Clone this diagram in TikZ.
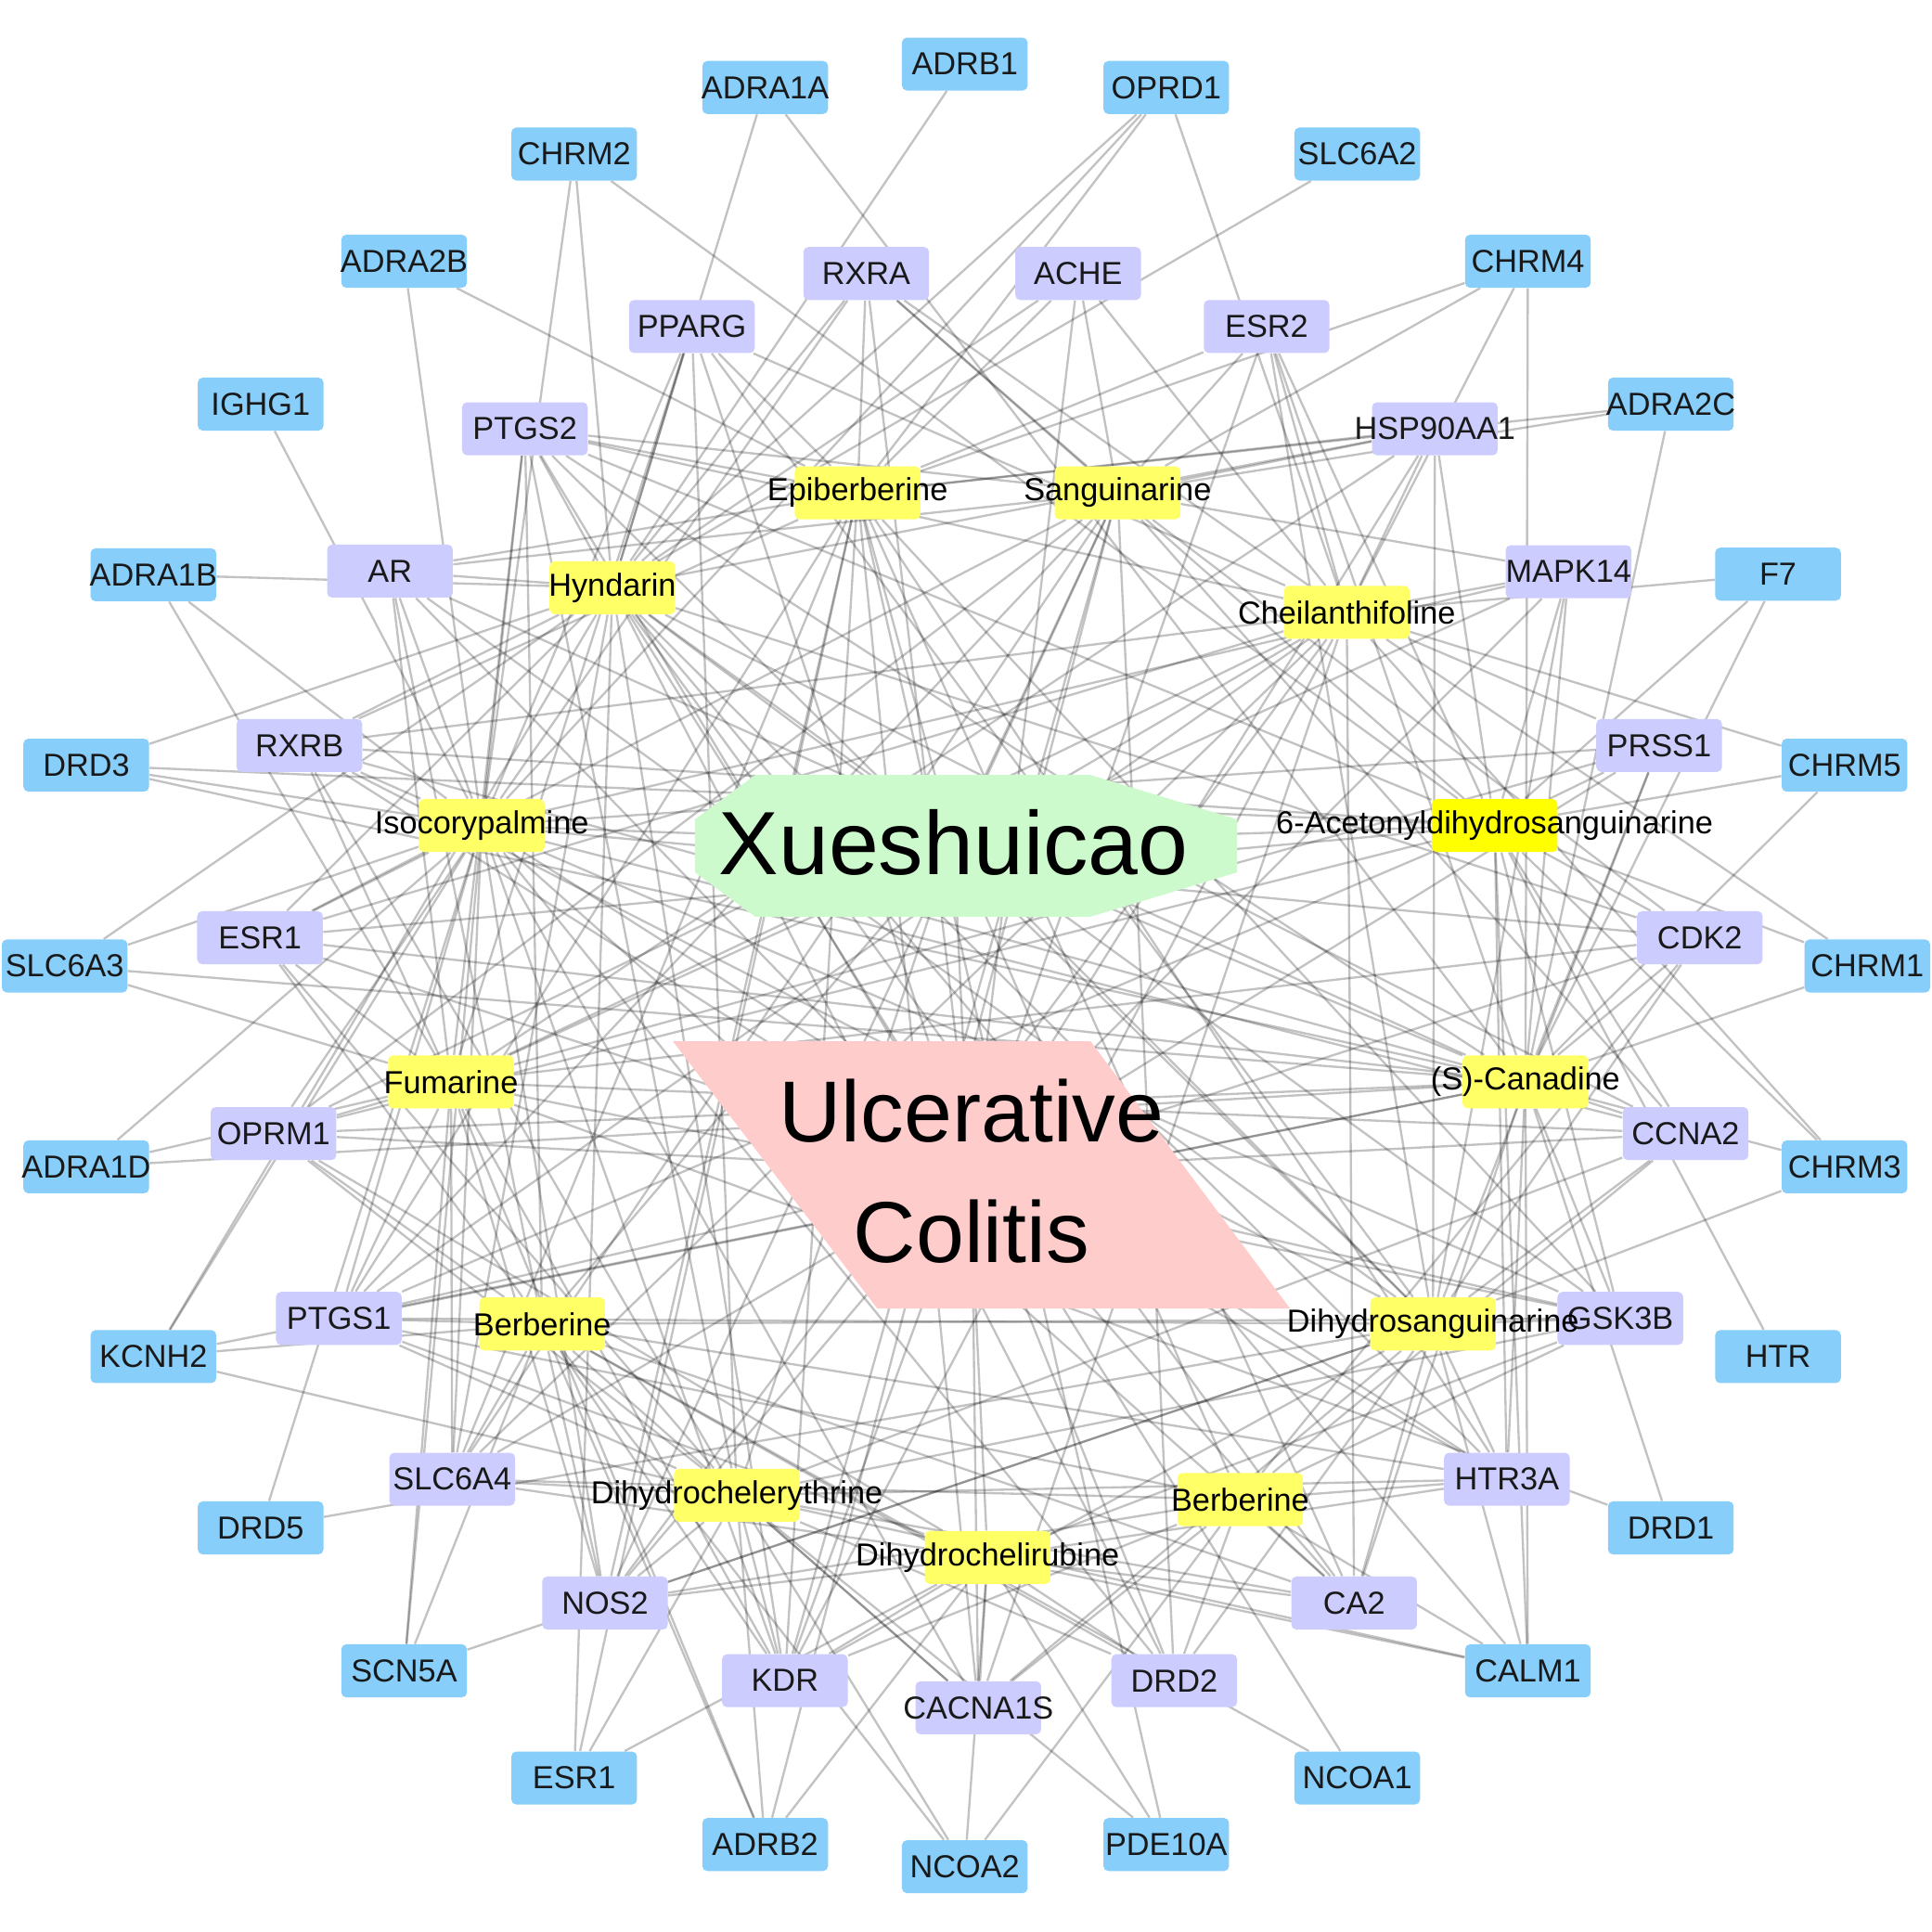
\documentclass[tikz,border=0pt]{standalone}
\usepackage{fontspec}
\setmainfont{Liberation Sans}
\usetikzlibrary{backgrounds}
\definecolor{tgblue}{HTML}{87CEFA}
\definecolor{tgpurple}{HTML}{CCCCFF}
\definecolor{cpyellow}{HTML}{FFFF66}
\definecolor{cpgold}{HTML}{FFFF00}
\definecolor{herbgreen}{HTML}{CCFACC}
\definecolor{dispink}{HTML}{FFCCCC}
\tikzset{
  tbox/.style={rectangle,rounded corners=0.8mm,minimum width=2.04cm,minimum height=0.86cm,inner sep=0pt,
    font=\fontsize{14.7}{17}\selectfont,text=black!90,
    execute at begin node={\hbox to 0pt\bgroup\hss},execute at end node={\hss\egroup}},
  outer/.style={tbox,fill=tgblue},
  inner/.style={tbox,fill=tgpurple},
  cmpd/.style={tbox,fill=cpyellow,text=black},
  link/.style={draw=black,opacity=0.24,line width=1pt}
}

\begin{document}
\begin{tikzpicture}[x=0.02cm,y=-0.02cm]
  \useasboundingbox (0,0) rectangle (1568,1568);
  \fill[herbgreen] (564,665) -- (613,629) -- (885,629) -- (1004,665) -- (1004,708) -- (885,744) -- (613,744) -- (564,708) -- cycle;
  \fill[dispink] (546,845) -- (885,845) -- (1047,1062) -- (712,1062) -- cycle;
  \node[font=\fontsize{41.5}{41.5}\selectfont] (xsc) at (774,684) {Xueshuicao};
  \node[font=\fontsize{40}{55.5}\selectfont,align=center] (uc) at (788.5,950.5) {Ulcerative\\Colitis};
  \foreach \n/\x/\y/\t in {adrb1/783/52/ADRB1,adra1a/621/71/ADRA1A,oprd1/946.5/71/OPRD1,chrm2/466/125/CHRM2,
    slc6a2/1101.5/125/SLC6A2,adra2b/328/212/ADRA2B,chrm4/1240/212/CHRM4,ighg1/211.5/328/IGHG1,adra2c/1356/328/ADRA2C,
    adra1b/124.5/466.5/ADRA1B,f7/1443/466/F7,drd3/70/621/DRD3,chrm5/1497/621/CHRM5,slc6a3/52.5/784/SLC6A3,
    chrm1/1515.5/784/CHRM1,adra1d/70/947/ADRA1D,chrm3/1497/947/CHRM3,kcnh2/124.5/1101/KCNH2,htr/1443/1101/HTR,
    drd5/211.5/1240/DRD5,drd1/1356/1240/DRD1,scn5a/328/1356/SCN5A,calm1/1240/1356/CALM1,esrb/466/1443/ESR1,
    ncoa1/1101.5/1443/NCOA1,adrb2/621/1497/ADRB2,pde10a/946.5/1497/PDE10A,ncoa2/783/1515/NCOA2}
    \node[outer] (\n) at (\x,\y) {\t};
  \foreach \n/\x/\y/\t in {rxra/703/222/RXRA,ache/875/222/ACHE,pparg/561.5/265/PPARG,esr2/1028/265/ESR2,
    ptgs2/426/348/PTGS2,hsp/1164.5/348/HSP90AA1,ar/316.5/463.5/AR,mapk14/1273/464/MAPK14,rxrb/243/605/RXRB,
    prss1/1346.5/605/PRSS1,esr1/211/761/ESR1,cdk2/1379.5/761/CDK2,oprm1/222/920/OPRM1,ccna2/1368/920/CCNA2,
    ptgs1/275/1070/PTGS1,gsk3b/1315/1070/GSK3B,slc6a4/367/1200.5/SLC6A4,htr3a/1223/1200.5/HTR3A,
    nos2/491/1301/NOS2,ca2/1099/1301/CA2,kdr/637/1364/KDR,drd2/953/1364/DRD2,cacna1s/794/1386/CACNA1S}
    \node[inner] (\n) at (\x,\y) {\t};
  \foreach \n/\x/\y/\t in {epib/696/400/Epiberberine,sang/907/400/Sanguinarine,hynd/497/477/Hyndarin,
    chei/1093/497/Cheilanthifoline,isoc/391/670/Isocorypalmine,fuma/366/878/Fumarine,cana/1238/878/(S)-Canadine,
    berl/440/1074.5/Berberine,dsan/1163/1074.5/Dihydrosanguinarine,dche/598/1213.5/Dihydrochelerythrine,
    berr/1006.5/1217/Berberine,dchr/801.5/1264/Dihydrochelirubine}
    \node[cmpd] (\n) at (\x,\y) {\t};
  \node[cmpd,fill=cpgold] (acet) at (1213,670) {6-Acetonyldihydrosanguinarine};

  \begin{pgfonlayer}{background}
    \fill[white] (0,0) rectangle (1568,1568);
    \foreach \c in {epib,sang,hynd,chei,isoc,acet,fuma,cana,berl,dsan,dche,berr,dchr}
      \draw[link] (xsc.center) -- (\c);
    \foreach \t in {rxra,ache,pparg,esr2,ptgs2,hsp,ar,mapk14,rxrb,prss1,esr1,cdk2,oprm1,ccna2,ptgs1,gsk3b,slc6a4,htr3a,nos2,ca2,kdr,drd2,cacna1s}
      \draw[link] (uc.center) -- (\t);
    \foreach \t in {adrb1,adra1a,oprd1,slc6a2,chrm2,adra1b,drd3,kcnh2,slc6a3,esrb,ncoa1,ar,ptgs2,pparg,rxra,ache,hsp,rxrb,esr1,cdk2,ccna2,gsk3b,htr3a,ca2,drd2,kdr,slc6a4,calm1}
      \draw[link] (hynd) -- (\t);
    \foreach \t in {chrm2,adra2b,ighg1,adra1b,drd3,slc6a3,adra1d,kcnh2,drd5,scn5a,oprd1,ptgs2,pparg,rxra,ar,rxrb,esr1,oprm1,ptgs1,slc6a4,nos2,kdr,cacna1s,drd2,ca2,htr3a,prss1,mapk14,cdk2,ccna2,gsk3b}
      \draw[link] (isoc) -- (\t);
    \foreach \t in {adra2b,chrm4,oprd1,adra2c,esrb,pde10a,ptgs2,pparg,rxra,ache,esr2,hsp,ar,rxrb,ptgs1,slc6a4,nos2,kdr,cacna1s,gsk3b,htr3a,ca2}
      \draw[link] (epib) -- (\t);
    \foreach \t in {chrm4,adra2c,adrb2,ptgs2,rxra,ache,esr2,hsp,mapk14,ar,cdk2,ccna2,kdr,drd2,nos2,slc6a4,ptgs1,oprm1,esr1}
      \draw[link] (sang) -- (\t);
    \foreach \t in {oprd1,chrm4,f7,chrm5,chrm1,chrm3,ptgs2,pparg,rxra,ache,esr2,hsp,mapk14,prss1,rxrb,esr1,oprm1,ptgs1,slc6a4,nos2,kdr,cacna1s,ca2}
      \draw[link] (chei) -- (\t);
    \foreach \t in {chrm2,drd3,f7,chrm5,chrm1,chrm3,htr,rxra,esr2,hsp,mapk14,prss1,cdk2,ccna2,gsk3b,htr3a,ptgs2,rxrb,esr1,oprm1,ptgs1,calm1}
      \draw[link] (acet) -- (\t);
    \foreach \t in {adra1b,adra1d,slc6a3,drd1,adrb2,scn5a,ptgs2,pparg,ar,rxrb,esr1,oprm1,ptgs1,slc6a4,nos2,kdr,ccna2,cdk2,gsk3b,prss1,mapk14,hsp}
      \draw[link] (fuma) -- (\t);
    \foreach \t in {adra1a,drd3,chrm4,adra2c,f7,chrm5,chrm1,chrm3,drd1,calm1,kcnh2,adra1d,slc6a3,esr2,mapk14,prss1,cdk2,ccna2,gsk3b,htr3a,ca2,esr1,oprm1,ptgs1,ar,rxrb,ptgs2}
      \draw[link] (cana) -- (\t);
    \foreach \t in {kcnh2,ncoa1,ncoa2,adrb2,scn5a,ptgs2,ar,esr1,oprm1,ptgs1,slc6a4,nos2,kdr,cacna1s,drd2,ca2,htr3a,gsk3b}
      \draw[link] (berl) -- (\t);
    \foreach \t in {scn5a,drd5,calm1,chrm3,cdk2,ccna2,gsk3b,htr3a,ca2,drd2,cacna1s,kdr,nos2,prss1,mapk14,esr2,hsp,ptgs1,rxrb,ar,ptgs2,pparg}
      \draw[link] (dsan) -- (\t);
    \foreach \t in {kcnh2,pde10a,adrb2,calm1,ptgs2,pparg,rxrb,esr1,oprm1,ptgs1,slc6a4,nos2,kdr,cacna1s,drd2,ca2,htr3a,gsk3b,ccna2,esrb,ncoa2}
      \draw[link] (dche) -- (\t);
    \foreach \t in {calm1,ncoa2,ca2,drd2,cacna1s,htr3a,gsk3b,ccna2,cdk2,kdr,nos2,slc6a4,ptgs1}
      \draw[link] (berr) -- (\t);
    \foreach \t in {esrb,adrb2,ncoa2,pde10a,calm1,kdr,cacna1s,drd2,ca2,htr3a,nos2,slc6a4,ptgs1,gsk3b,oprm1}
      \draw[link] (dchr) -- (\t);
  \end{pgfonlayer}
\end{tikzpicture}
\end{document}
